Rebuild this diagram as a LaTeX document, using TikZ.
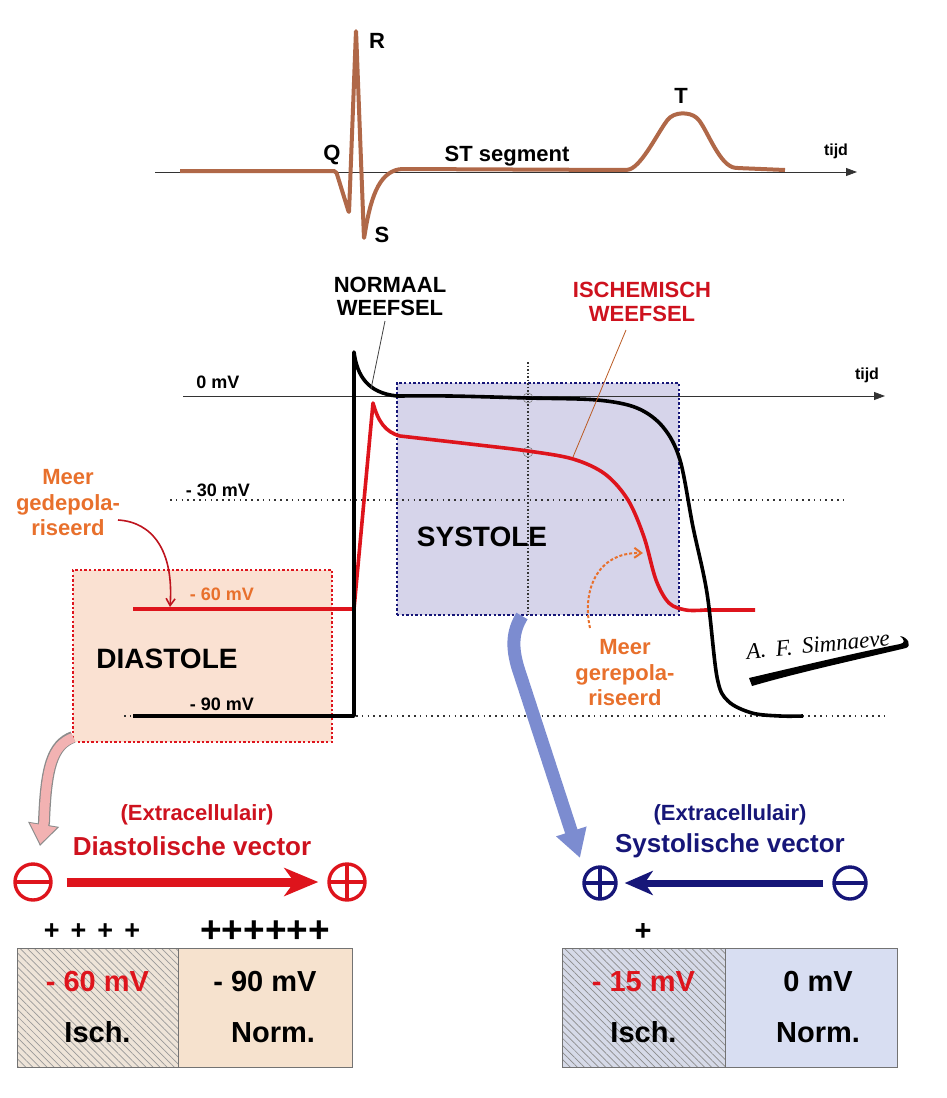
\documentclass[tikz,border=0pt]{standalone}
\usepackage{fontspec}
\setmainfont{Liberation Sans}
\newfontfamily\sigfont{Liberation Serif}
\usetikzlibrary{arrows.meta,patterns.meta}
\definecolor{ecgbrown}{RGB}{176,104,72}
\definecolor{apred}{RGB}{222,20,28}
\definecolor{txtred}{RGB}{206,18,30}
\definecolor{orng}{RGB}{232,112,44}
\definecolor{darkred}{RGB}{190,20,30}
\definecolor{navy}{RGB}{22,22,120}
\definecolor{sysfill}{RGB}{214,212,234}
\definecolor{diafill}{RGB}{250,225,210}
\definecolor{dtabR}{RGB}{246,226,206}
\definecolor{dtabL}{RGB}{238,228,216}
\definecolor{stabR}{RGB}{216,222,242}
\definecolor{stabL}{RGB}{214,218,232}
\definecolor{periw}{RGB}{124,140,208}
\definecolor{pinkarr}{RGB}{242,178,178}
\newcommand\fsz[1]{\fontsize{#1}{#1}\selectfont}
\begin{document}
\begin{tikzpicture}[x=1pt,y=-1pt,
  txt/.style={inner sep=0pt,font=\bfseries\fsz{#1}},
  axis/.style={line width=0.8pt,draw=black!80,-{Triangle[length=11pt,width=8pt]}},
  guide/.style={line width=1.6pt,dash pattern=on 1.6pt off 4.2pt,draw=black!80},
  apline/.style={line width=3.6pt,line join=round},
  sym/.style={circle,draw=#1,line width=3.4pt,minimum size=36pt,inner sep=0pt},
  symminus/.style={sym=#1,path picture={\draw[#1,line width=3.4pt] (path picture bounding box.west) -- (path picture bounding box.east);}},
  symplus/.style={sym=#1,path picture={\draw[#1,line width=3.4pt] (path picture bounding box.west) -- (path picture bounding box.east) (path picture bounding box.north) -- (path picture bounding box.south);}},
  cell/.style={draw=black!55,line width=1pt,minimum width=#1,minimum height=119pt,inner sep=0pt,align=center,font=\bfseries\fontsize{29}{51}\selectfont},
  hatch/.style={pattern={Lines[angle=-45,distance=5pt,line width=0.7pt]},pattern color=#1},
]
\useasboundingbox (0,0) rectangle (947,1098);

% ---------------- ECG ----------------
\coordinate (ecgA) at (155,172);
\coordinate (ecgB) at (857,172);
\draw[axis] (ecgA) -- (ecgB);
\node[txt=16] (tijd1) at (836,151) {tijd};
\draw[ecgbrown,line width=4pt,line join=round,rounded corners=2pt]
  (180,171) -- (336,171) -- (349,213) -- (356,30) -- (364,239)
  .. controls (370,200) and (378,173) .. (401,169) -- (626,170)
  .. controls (640,168) and (655,138) .. (666,122)
  .. controls (674,111) and (690,112) .. (698,119)
  .. controls (708,132) and (720,166) .. (737,168) -- (785,170);
\node[txt=22] (Q) at (332,155) {Q};
\node[txt=22] (R) at (377,41) {R};
\node[txt=22] (S) at (382,235) {S};
\node[txt=22] (T) at (681,96) {T};
\node[txt=22] (ST) at (507,156) {ST segment};

% ---------------- Action potential boxes ----------------
\node[draw=navy,fill=sysfill,line width=2.4pt,dash pattern=on 2.4pt off 2.2pt,minimum width=282pt,minimum height=232pt,inner sep=0pt] (sys) at (538,499) {};
\node[draw=apred,fill=diafill,line width=2.4pt,dash pattern=on 2.4pt off 2.2pt,minimum width=259pt,minimum height=172pt,inner sep=0pt] (dia) at (202.5,656) {};

% axes and guides
\coordinate (ax0a) at (183,396);
\coordinate (ax0b) at (885,396);
\draw[axis] (ax0a) -- (ax0b);
\node[txt=16] (tijd2) at (867,375) {tijd};
\coordinate (g30a) at (170,500);
\coordinate (g30b) at (845,500);
\draw[guide] (g30a) -- (g30b);
\coordinate (g90a) at (124,716);
\coordinate (g90b) at (884,716);
\draw[guide] (g90a) -- (g90b);
\coordinate (vta) at (528,362);
\coordinate (vtb) at (528,615);
\draw[line width=1.2pt,dash pattern=on 1.5pt off 2pt,black!80] (vta) -- (vtb);
\node[circle,draw=black!50,line width=0.6pt,minimum size=10pt,inner sep=0pt] (c1) at (528,398) {};
\node[circle,draw=black!50,line width=0.6pt,minimum size=10pt,inner sep=0pt] (c2) at (528,452) {};

\node[txt=18] (l0) at (218,382) {0 mV};
\node[txt=18] (l30) at (218,490) {- 30 mV};
\node[txt=18,text=orng] (l60) at (222,594) {- 60 mV};
\node[txt=18] (l90) at (222,704) {- 90 mV};
\node[txt=28] (systxt) at (482,537) {SYSTOLE};
\node[txt=28] (diatxt) at (167,659) {DIASTOLE};

% curves
\draw[apline,apred] (133,609) -- (354,609) -- (373,403)
  .. controls (378,421) and (385,432) .. (400,436)
  -- plot[smooth,tension=0.55] coordinates {(400,436) (470,444) (528,451) (573,459) (605,474) (628,500) (644,537) (656,580) (669,603) (686,610) (705,610)}
  -- (755,610);
\draw[apline,black] (133,716) -- (354,716) -- (354,352)
  .. controls (357,376) and (368,393) .. (397,396)
  -- plot[smooth,tension=0.55] coordinates {(397,396) (450,396) (528,398) (597,400) (637,408) (663,427) (680,460) (693,527) (707,593) (717,677) (728,701) (752,713) (780,716) (803,716)};

% labels of tissues
\node[txt=22,align=center,font=\bfseries\fontsize{22}{23}\selectfont] (norm) at (390,296) {NORMAAL\\WEEFSEL};
\coordinate (normpt) at (371,389);
\draw[line width=0.8pt,black!75] (385,321) -- (normpt);
\node[txt=22,align=center,text=txtred,font=\bfseries\fontsize{22}{24}\selectfont] (isch) at (642,302) {ISCHEMISCH\\WEEFSEL};
\coordinate (ischpt) at (573,457);
\draw[line width=0.8pt,orng!80!black] (626,330) -- (ischpt);

\node[txt=22,align=center,text=orng,font=\bfseries\fontsize{22}{25.5}\selectfont] (gedep) at (68,503) {Meer\\gedepola-\\riseerd};
\coordinate (gedeptip) at (170,607);
\draw[darkred,line width=1.6pt,-{Straight Barb[length=7pt,width=9pt]}] (118,520) .. controls (152,522) and (174,550) .. (gedeptip);

\node[txt=22,align=center,text=orng,font=\bfseries\fontsize{22}{25.5}\selectfont] (gerep) at (625,673) {Meer\\gerepola-\\riseerd};
\coordinate (gereps) at (590,628);
\coordinate (gerept) at (643,553);
\draw[orng,line width=2pt,dash pattern=on 3pt off 2pt,-{Straight Barb[length=7pt,width=10pt]}] (gereps) .. controls (582,592) and (596,552) .. (gerept);

% signature
\node[rotate=5.5,inner sep=0pt,font=\sigfont\itshape\fsz{23}] (sig) at (818,645) {A.~\,F.~\,Simnaeve};
\fill[black] (749,678) -- (752,686) .. controls (800,672) and (860,659) .. (906,648)
  .. controls (912,646) and (908,637) .. (900,636)
  .. controls (905,640) and (905,643) .. (900,644)
  .. controls (855,653) and (800,666) .. cycle;

% ---------------- big arrows from boxes ----------------
\coordinate (pinks) at (73,737);
\coordinate (pinke) at (40,846);
\draw[black!45,line width=12pt,-{Triangle[length=22pt,width=30pt]}] (pinks) .. controls (52,745) and (46,768) .. (44,822) -- (pinke);
\draw[pinkarr,line width=9.5pt,-{Triangle[length=19pt,width=26pt]}] (73.5,737.5) .. controls (52,745) and (46,768) .. (44,822) -- (40.3,844);

\coordinate (blues) at (522,616);
\coordinate (bluee) at (580,858);
\draw[periw,line width=13pt,-{Triangle[length=28pt,width=30pt]}] (blues) .. controls (512,632) and (512,648) .. (518,668) -- (bluee);

% ---------------- vectors ----------------
\node[txt=22,text=txtred] (extra1) at (197,815) {(Extracellulair)};
\node[txt=26,text=txtred] (dvec) at (192,846) {Diastolische vector};
\node[symminus=apred] (dm) at (33,882) {};
\node[symplus=apred] (dp) at (347,882) {};
\draw[apred,line width=9pt,shorten <=14pt,shorten >=9pt,-{Stealth[length=34pt,width=28pt,inset=10pt]}] (dm) -- (dp);

\node[txt=22,text=navy] (extra2) at (730,815) {(Extracellulair)};
\node[txt=26,text=navy] (svec) at (730,846) {Systolische vector};
\node[symplus=navy,minimum size=32pt] (sp) at (600,883) {};
\node[symminus=navy,minimum size=32pt] (sm) at (850,883) {};
\draw[navy,line width=7pt,shorten <=9pt,shorten >=7pt,-{Stealth[length=28pt,width=24pt,inset=8pt]}] (sm) -- (sp);

% ---------------- tables ----------------
\node[txt=27] (plus4) at (92,932) {+\hspace{11pt}+\hspace{11pt}+\hspace{11pt}+};
\node[txt=37] (plus6) at (265,932) {++++++};
\node[txt=29] (plus1) at (643,932) {+};

\node[cell=161pt,preaction={fill=dtabL},hatch=black!40] (dL) at (97.5,1007.5) {\textcolor{apred}{- 60 mV}\\Isch.};
\node[cell=174pt,fill=dtabR] (dR) at (265,1007.5) {- 90 mV\\\hspace*{16pt}Norm.};
\node[cell=163pt,preaction={fill=stabL},hatch=black!45] (sL) at (643.5,1007.5) {\textcolor{apred}{- 15 mV}\\Isch.};
\node[cell=172pt,fill=stabR] (sR) at (811,1007.5) {\hspace*{14pt}0 mV\\\hspace*{14pt}Norm.};
\end{tikzpicture}
\end{document}
